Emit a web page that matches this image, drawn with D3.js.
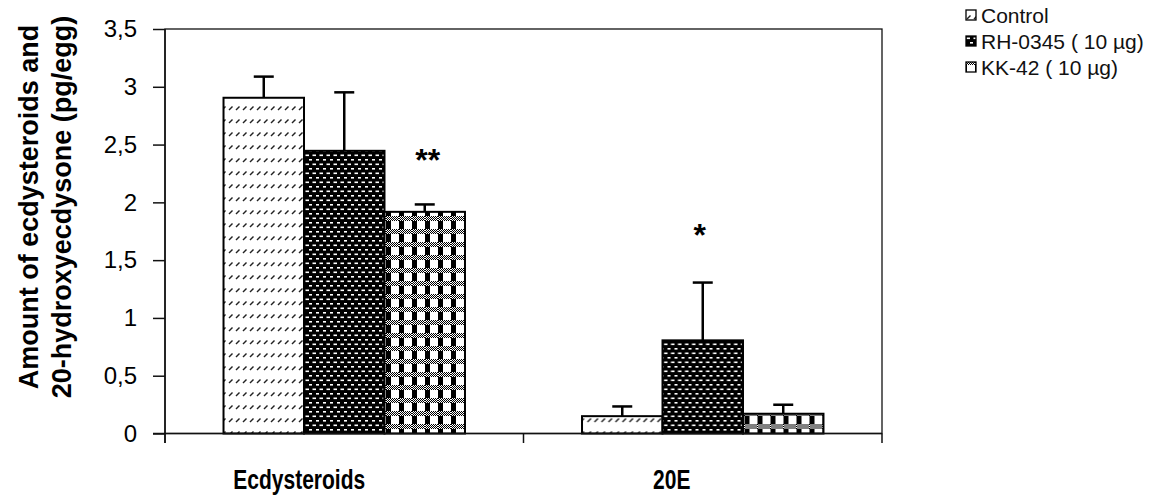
<!DOCTYPE html>
<html><head><meta charset="utf-8">
<script src="https://cdn.jsdelivr.net/npm/d3@7"></script>
<style>body{margin:0;background:#fff}svg{display:block}</style>
</head><body>
<svg id="c" width="1156" height="497"></svg>
<script>
const categories = ["Ecdysteroids", "20E"];
const series = ["Control", "RH-0345 ( 10 µg)", "KK-42 ( 10 µg)"];
const controlValues = [2.905, 0.15];
const rhValues = [2.446, 0.806];
const kkValues = [1.918, 0.171];
const controlErr = [0.183, 0.084];
const rhErr = [0.506, 0.50];
const kkErr = [0.064, 0.078];
const controlSig = ["", ""];
const rhSig = ["", "*"];
const kkSig = ["**", ""];
const yTicks = [0, 0.5, 1, 1.5, 2, 2.5, 3, 3.5];
const yTickLabels = ["0", "0,5", "1", "1,5", "2", "2,5", "3", "3,5"];
const yTitle = ["Amount of ecdysteroids and", "20-hydroxyecdysone (pg/egg)"];

const FONT = "'Liberation Sans', Arial, sans-serif";
const svg = d3.select("#c");
const m = {left: 165, right: 882, top: 29, bottom: 433.5};

const vals = [controlValues, rhValues, kkValues];
const errs = [controlErr, rhErr, kkErr];
const sigs = [controlSig, rhSig, kkSig];
const patIds = ["pControl", "pRH", "pKK"];

// patterns
const defs = svg.append("defs");
const p1 = defs.append("pattern").attr("id", "pControl").attr("patternUnits", "userSpaceOnUse")
  .attr("width", 7).attr("height", 13);
p1.append("rect").attr("width", 7).attr("height", 13).attr("fill", "#fff");
p1.append("path").attr("d", "M1,6 L4.5,2.5").attr("stroke", "#222").attr("stroke-width", 1.4);

const p2 = defs.append("pattern").attr("id", "pRH").attr("patternUnits", "userSpaceOnUse")
  .attr("width", 7).attr("height", 9);
p2.append("rect").attr("width", 7).attr("height", 9).attr("fill", "#000");
p2.append("rect").attr("x", 0.5).attr("y", 1.5).attr("width", 3.5).attr("height", 1.6).attr("fill", "#fff");
p2.append("rect").attr("x", 4).attr("y", 6).attr("width", 3.5).attr("height", 1.6).attr("fill", "#fff");

const pDot = defs.append("pattern").attr("id", "pDot").attr("patternUnits", "userSpaceOnUse")
  .attr("width", 2).attr("height", 2);
pDot.append("rect").attr("width", 2).attr("height", 2).attr("fill", "#fff");
pDot.append("rect").attr("width", 1).attr("height", 1).attr("fill", "#000");
pDot.append("rect").attr("x", 1).attr("y", 1).attr("width", 1).attr("height", 1).attr("fill", "#000");

const p3 = defs.append("pattern").attr("id", "pKK").attr("patternUnits", "userSpaceOnUse")
  .attr("width", 13).attr("height", 13);
p3.append("rect").attr("width", 13).attr("height", 13).attr("fill", "#fff");
p3.append("rect").attr("x", 0).attr("y", 0).attr("width", 5).attr("height", 8).attr("fill", "#000");
p3.append("rect").attr("x", 0).attr("y", 8).attr("width", 13).attr("height", 5).attr("fill", "url(#pDot)");

// scales
const y = d3.scaleLinear().domain([0, 3.5]).range([m.bottom, m.top]);
const x0 = d3.scaleBand().domain(categories).range([m.left, m.right]).paddingInner(0).paddingOuter(0);
const x1 = d3.scaleBand().domain(series).range([0, x0.bandwidth()]).paddingInner(0).paddingOuter(0.727);

// plot border
svg.append("rect").attr("x", m.left).attr("y", m.top).attr("width", m.right - m.left)
  .attr("height", m.bottom - m.top).attr("fill", "none").attr("stroke", "#111").attr("stroke-width", 1.3);

// bars
const groups = svg.append("g").selectAll("g").data(categories).join("g")
  .attr("transform", d => `translate(${x0(d)},0)`);
series.forEach((s, si) => {
  groups.append("rect")
    .attr("x", x1(s)).attr("width", x1.bandwidth())
    .attr("y", (d, ci) => y(vals[si][ci]))
    .attr("height", (d, ci) => y(0) - y(vals[si][ci]))
    .attr("fill", `url(#${patIds[si]})`)
    .attr("stroke", "#000").attr("stroke-width", 2);
});
// error bars + significance marks
series.forEach((s, si) => {
  const cx = x1(s) + x1.bandwidth() / 2;
  groups.append("line").attr("x1", cx).attr("x2", cx)
    .attr("y1", (d, ci) => y(vals[si][ci])).attr("y2", (d, ci) => y(vals[si][ci] + errs[si][ci]))
    .attr("stroke", "#000").attr("stroke-width", 2.5);
  groups.append("line").attr("x1", cx - 10).attr("x2", cx + 10)
    .attr("y1", (d, ci) => y(vals[si][ci] + errs[si][ci])).attr("y2", (d, ci) => y(vals[si][ci] + errs[si][ci]))
    .attr("stroke", "#000").attr("stroke-width", 2.5);
  groups.append("text").attr("x", (d, ci) => cx + (ci === 0 ? 3 : -3))
    .attr("y", (d, ci) => y(vals[si][ci] + errs[si][ci]) - (ci === 0 ? 33 : 37))
    .attr("text-anchor", "middle").attr("font-family", FONT).attr("font-weight", "bold")
    .attr("font-size", 32).text((d, ci) => sigs[si][ci]);
});

// y axis
const yAxis = d3.axisLeft(y).tickValues(yTicks).tickFormat((d, i) => yTickLabels[i]).tickSize(12).tickPadding(16);
const ga = svg.append("g").attr("transform", `translate(${m.left},0)`).call(yAxis);
ga.select(".domain").attr("stroke", "#111").attr("stroke-width", 1.5).attr("d", `M0,${m.top}V${m.bottom + 9.5}`);
ga.selectAll(".tick line").attr("stroke", "#111").attr("stroke-width", 1.5);
ga.selectAll("text").attr("font-family", FONT).attr("font-size", 24).attr("fill", "#000");

// x axis
const xBoundaries = [m.left, m.left + x0.bandwidth(), m.right];
svg.append("line").attr("x1", m.left - 12).attr("x2", m.right).attr("y1", m.bottom).attr("y2", m.bottom)
  .attr("stroke", "#111").attr("stroke-width", 1.5);
svg.append("g").selectAll("line").data(xBoundaries).join("line")
  .attr("x1", d => d).attr("x2", d => d).attr("y1", m.bottom).attr("y2", m.bottom + 9.5)
  .attr("stroke", "#111").attr("stroke-width", 1.5);
const catShift = [-45, -31];
svg.append("g").selectAll("text").data(categories).join("text")
  .attr("transform", (d, i) => `translate(${x0(d) + x0.bandwidth() / 2 + catShift[i]},489) scale(1,1.3)`)
  .attr("text-anchor", "middle").attr("font-family", FONT).attr("font-weight", "bold")
  .attr("font-size", 21).text(d => d);

// y title
const tcy = 207;
yTitle.forEach((t, i) => {
  svg.append("text").attr("transform", `translate(${38 + i * 33},${tcy}) rotate(-90)`)
    .attr("text-anchor", "middle").attr("font-family", FONT).attr("font-weight", "bold")
    .attr("font-size", 27).text(t);
});

// legend
const lg = svg.append("g");
series.forEach((s, i) => {
  const cy = 15 + i * 26;
  lg.append("rect").attr("x", 966).attr("y", cy - 5).attr("width", 10).attr("height", 10)
    .attr("fill", `url(#${patIds[i]})`).attr("stroke", "#000").attr("stroke-width", 1.3);
  lg.append("text").attr("x", 981).attr("y", cy + 7.5).attr("font-family", FONT)
    .attr("font-size", 21).attr("fill", "#111").text(s);
});
</script>
</body></html>
